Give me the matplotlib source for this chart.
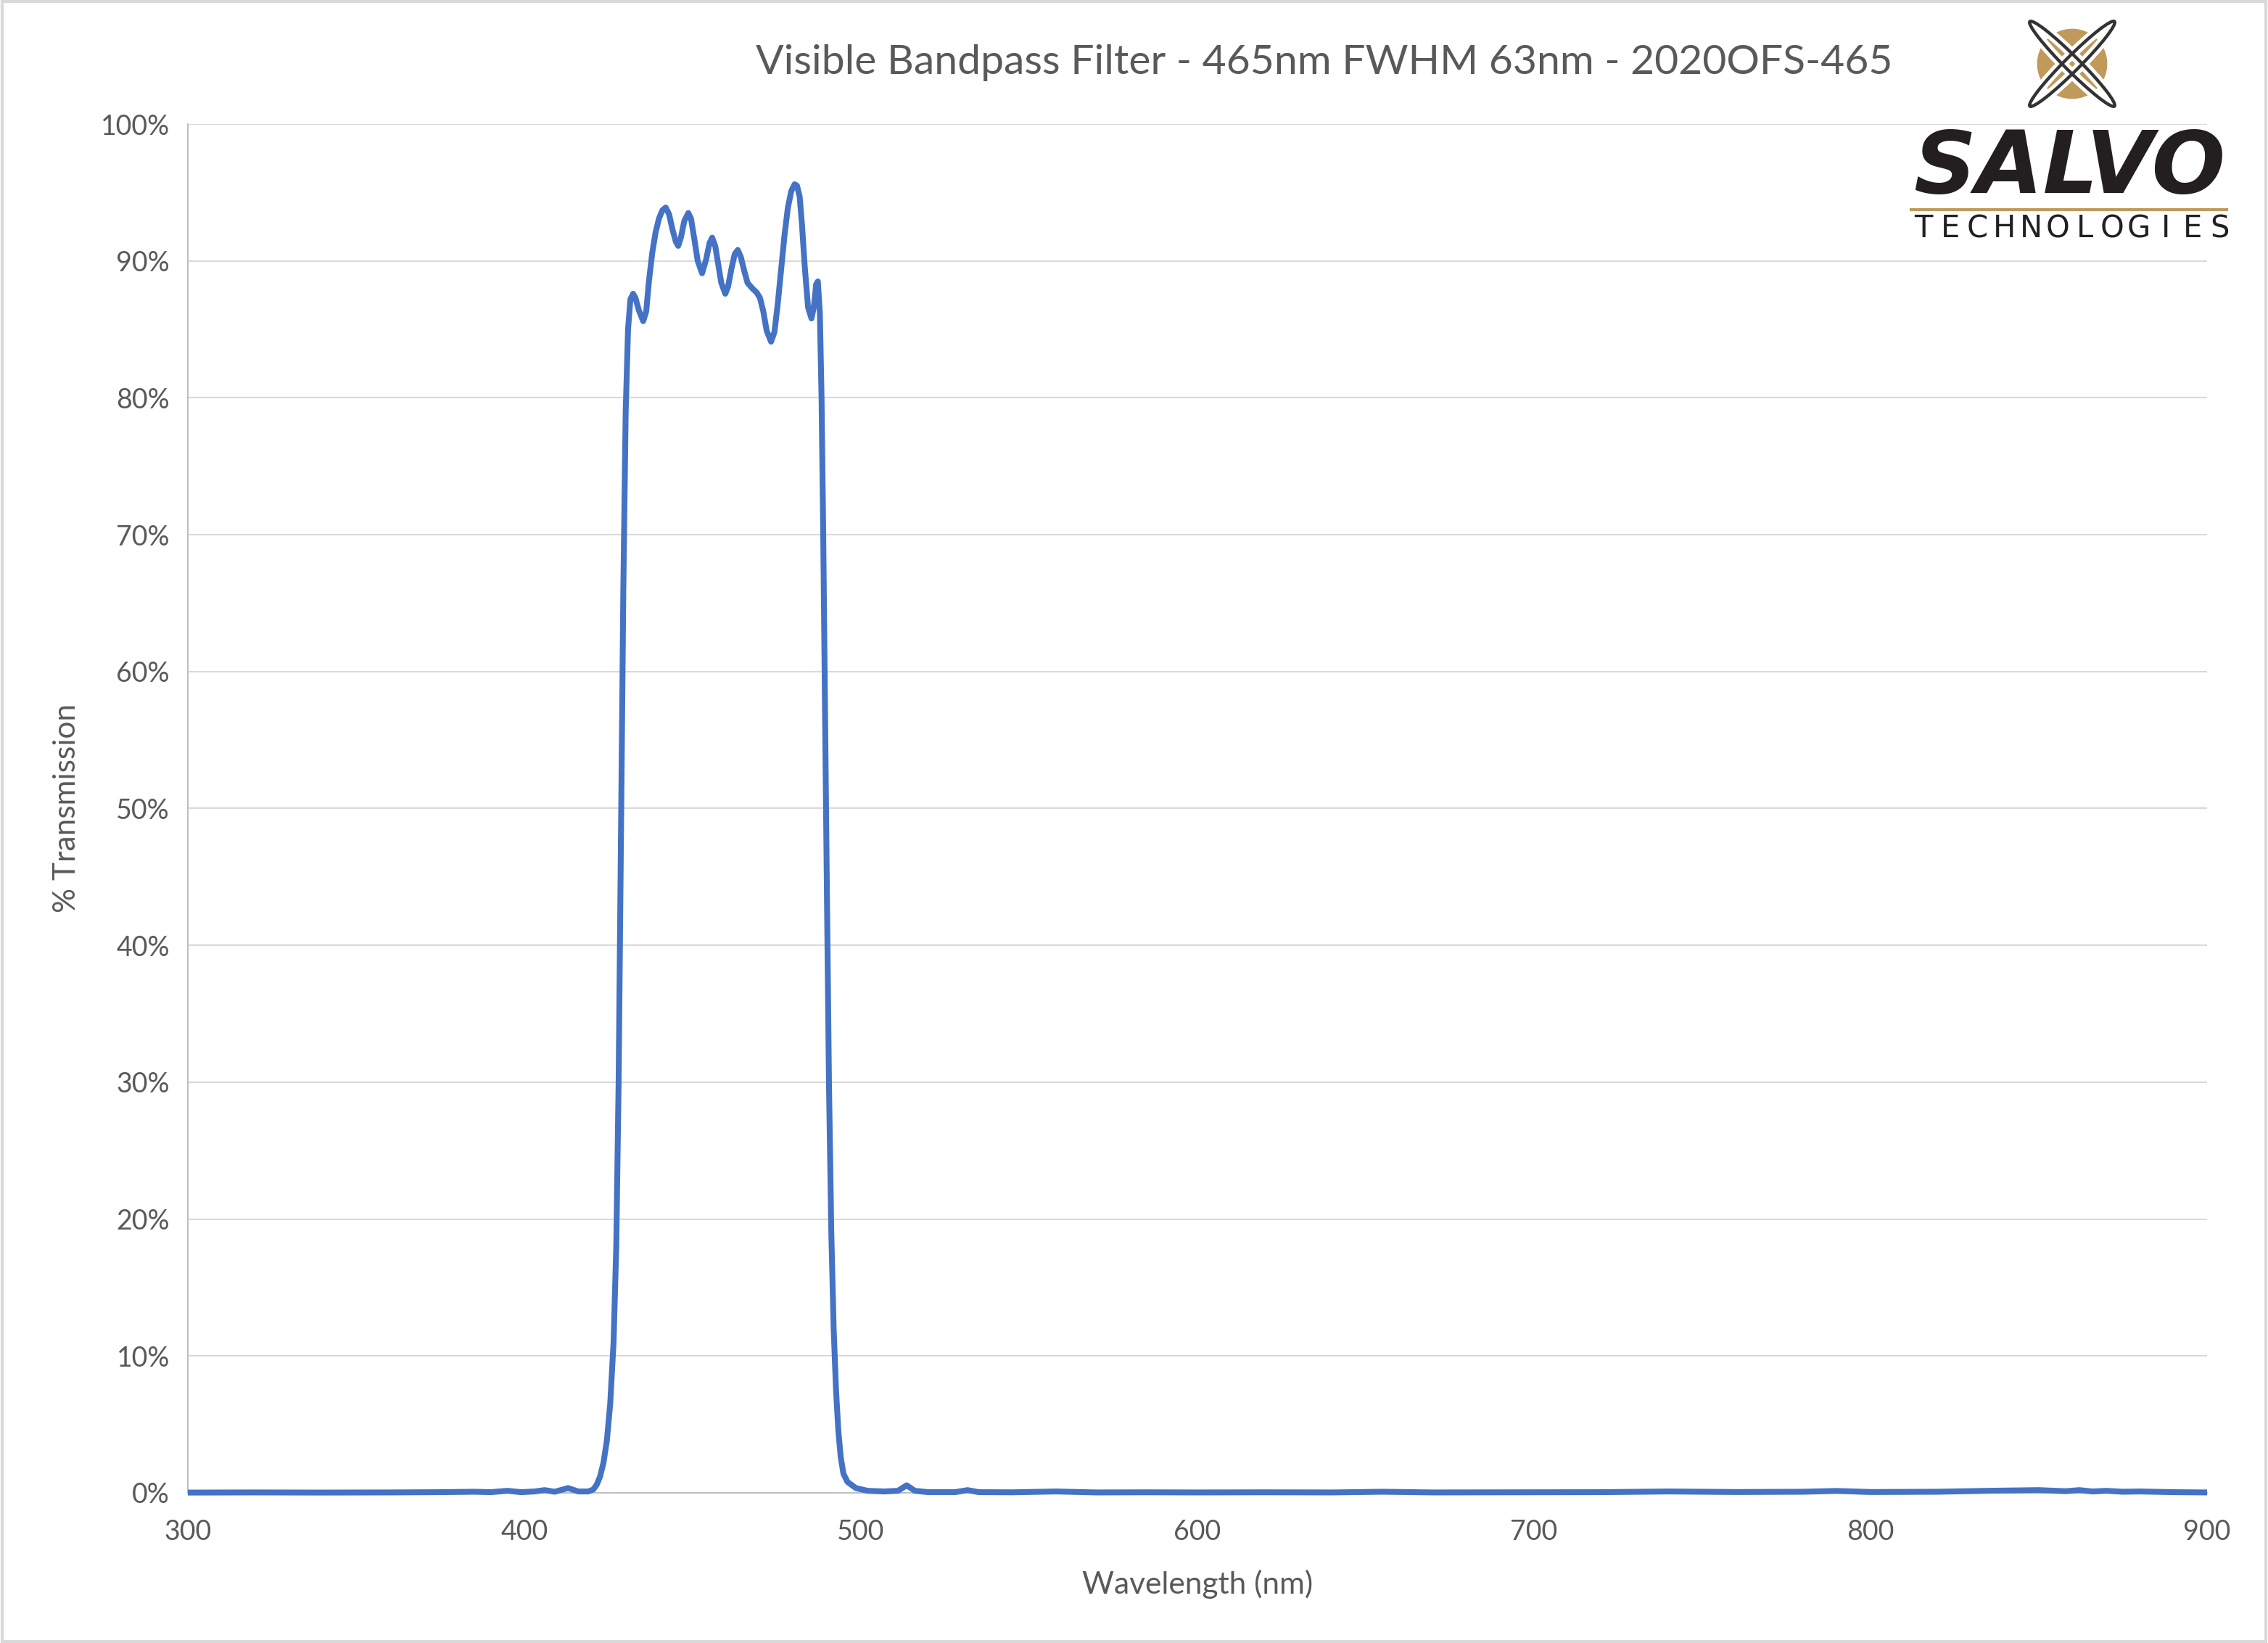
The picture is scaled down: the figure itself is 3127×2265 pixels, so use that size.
import matplotlib.pyplot as plt
import matplotlib.patches as patches
from matplotlib.ticker import FuncFormatter, MultipleLocator

plt.rcParams['font.family'] = ['Lato', 'DejaVu Sans']

# Transmission curve (wavelength in nm, transmission in %)
wavelength = [300, 320, 340, 360, 375, 385, 390, 395, 399, 403, 406, 409, 413, 416, 419,
              420.5, 421.5, 422.5, 423.5, 424.5, 425.5, 426.5, 427.3, 428, 428.7, 429.4,
              430.1, 430.8, 431.5, 432.3, 433, 434, 435.3, 436.2, 437, 438, 439, 440, 441,
              442, 443, 444, 445, 445.7, 446.5, 447.5, 448.7, 449.5, 450.5, 451.5, 452.8,
              454, 455, 455.8, 456.7, 457.5, 458.5, 459.7, 460.5, 461.5, 462.5, 463.4,
              464.3, 465.3, 466.3, 467.7, 469, 470, 471, 472, 473.3, 474.3, 475.3, 476.3,
              477.3, 478.3, 479.3, 480.3, 481, 481.8, 482.5, 483.3, 484.3, 485.3, 486,
              486.7, 487.2, 487.8, 488.3, 488.8, 489.3, 489.8, 490.5, 491.2, 491.9, 492.6,
              493.3, 494, 494.8, 496, 498.5, 502, 507, 511, 513.6, 516, 520, 528, 531.7,
              535, 545, 558, 570, 585, 600, 620, 640, 655, 670, 700, 720, 740, 760, 780,
              790, 800, 820, 835, 850, 858, 862, 866, 870, 875, 880, 890, 900]
transmission = [0.02, 0.03, 0.02, 0.03, 0.05, 0.08, 0.05, 0.15, 0.05, 0.1, 0.2, 0.08, 0.35,
                0.1, 0.1, 0.25, 0.6, 1.2, 2.2, 3.8, 6.5, 11, 18, 30, 48, 66, 79, 85, 87.2,
                87.6, 87.3, 86.4, 85.6, 86.3, 88.5, 90.6, 92.1, 93.1, 93.7, 93.9, 93.4, 92.3,
                91.4, 91.1, 91.7, 92.9, 93.5, 93.1, 91.6, 90.0, 89.1, 90.1, 91.3, 91.7, 91.1,
                89.9, 88.4, 87.6, 88.1, 89.4, 90.5, 90.8, 90.3, 89.3, 88.4, 88.0, 87.7, 87.3,
                86.3, 84.9, 84.1, 84.8, 86.9, 89.4, 91.9, 93.9, 95.1, 95.6, 95.5, 94.7, 92.6,
                89.6, 86.6, 85.8, 86.6, 88.3, 88.5, 86.2, 80, 70, 58, 46, 30, 19, 12, 7.5,
                4.5, 2.6, 1.4, 0.8, 0.35, 0.15, 0.1, 0.15, 0.55, 0.15, 0.05, 0.05, 0.2, 0.05,
                0.04, 0.1, 0.03, 0.04, 0.03, 0.04, 0.03, 0.08, 0.03, 0.04, 0.05, 0.1, 0.06,
                0.08, 0.14, 0.06, 0.08, 0.15, 0.2, 0.12, 0.2, 0.1, 0.15, 0.08, 0.1, 0.05, 0.03]

x_ticks = [300, 400, 500, 600, 700, 800, 900]

title = 'Visible Bandpass Filter - 465nm FWHM 63nm - 2020OFS-465'
text_color = '#595959'
grid_color = '#D9D9D9'
line_color = '#4472C4'

W, H = 3127, 2265
fig = plt.figure(figsize=(W / 200, H / 200), dpi=200)
ax = fig.add_axes([259 / W, 1 - 2058 / H, (3043 - 259) / W, (2058 - 171) / H])

ax.plot(wavelength, [t / 100 for t in transmission], color=line_color, lw=2.9,
        solid_joinstyle='round', solid_capstyle='butt', zorder=3, clip_on=False)

ax.set_xlim(300, 900)
ax.set_ylim(0, 1)
ax.set_xticks(x_ticks)
ax.yaxis.set_major_locator(MultipleLocator(0.1))
ax.yaxis.set_major_formatter(FuncFormatter(lambda v, p: f'{v * 100:.0f}%'))
ax.grid(axis='y', color=grid_color, lw=0.75)
ax.set_axisbelow(True)
ax.tick_params(length=0, labelsize=13.5, labelcolor=text_color)
ax.tick_params(axis='x', pad=13)
ax.tick_params(axis='y', pad=9)
for side in ['top', 'right']:
    ax.spines[side].set_visible(False)
ax.spines['left'].set_color('#BFBFBF')
ax.spines['left'].set_linewidth(0.75)
ax.spines['bottom'].set_color('#BFBFBF')
ax.spines['bottom'].set_linewidth(0.75)

ax.set_xlabel('Wavelength (nm)', fontsize=15.3, color=text_color, labelpad=12)
ax.set_ylabel('% Transmission', fontsize=15.3, color=text_color, labelpad=10)

fig.text(1826 / W, 1 - 86 / H, title, fontsize=20.5, color=text_color, ha='center', va='center')

# chart border
fig.add_artist(patches.Rectangle((0.001, 0.001), 0.998, 0.998, transform=fig.transFigure,
                                 fill=False, edgecolor=grid_color, lw=1.5))

# logo drawn in pixel coordinates
lx0, ly0, lw_, lh_ = 2620, 0, 480, 340
lax = fig.add_axes([lx0 / W, 1 - (ly0 + lh_) / H, lw_ / W, lh_ / H])
lax.set_xlim(lx0, lx0 + lw_)
lax.set_ylim(ly0 + lh_, ly0)
lax.axis('off')
gold = '#C09A5B'
dark = '#231F20'
lax.add_patch(patches.Circle((2857, 88), 47, color=gold, zorder=1))
for ang in [45, -45]:
    lax.add_patch(patches.Ellipse((2857, 88), 165, 20, angle=ang, fill=False,
                                  edgecolor='white', lw=5, zorder=2))
    lax.add_patch(patches.Ellipse((2857, 88), 165, 20, angle=ang, fill=False,
                                  edgecolor='#333333', lw=1.6, zorder=3))
lax.text(2853, 233, 'SALVO', fontsize=43, fontweight='bold', fontstyle='italic',
         family='DejaVu Sans', color=dark, ha='center', va='center')
lax.plot([2635, 3070], [289, 289], color=gold, lw=1.5)
for i, ch in enumerate('TECHNOLOGIES'):
    lax.text(2652 + i * 37.1, 315, ch, fontsize=15, family='DejaVu Sans',
             color=dark, ha='center', va='center')

fig.savefig('out.png', dpi=200)
